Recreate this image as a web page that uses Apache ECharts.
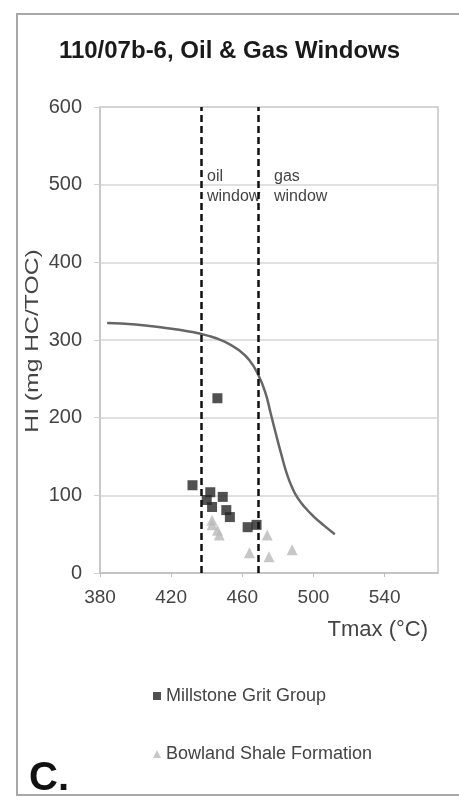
<!DOCTYPE html>
<html>
<head>
<meta charset="utf-8">
<script src="https://cdn.jsdelivr.net/npm/echarts@6/dist/echarts.min.js"></script>
<style>
  html, body { margin: 0; padding: 0; background: #fff; }
  #eChart { width: 459px; height: 801px; }
</style>
</head>
<body>
<div id="eChart"></div>
<script>
// maturity curve (Tmax, HI)
var curveTmax = [384, 400, 415, 430, 440, 450, 458, 464, 469, 473, 476, 479, 482, 485, 488, 491, 495, 500, 506, 512];
var curveHI   = [322, 320, 316, 311, 306, 298, 287, 274, 255, 232, 205, 178, 152, 128, 110, 97, 85, 73, 61, 50];

// Millstone Grit Group
var gritTmax = [446, 432, 442, 449, 440, 443, 453, 451, 463, 468];
var gritHI   = [225, 113, 104, 98, 94, 85, 72, 81, 59, 62];

// Bowland Shale Formation
var bowlandTmax = [443, 446, 447, 443, 474, 464, 475, 488];
var bowlandHI   = [68, 55, 49, 62, 49, 26, 21, 30];

// oil / gas window boundaries
var windowTmax = [437, 469];

var FONT = '"Liberation Sans", Arial, sans-serif';

function pairs(xs, ys){
    var out = [];
    for (var i = 0; i < xs.length; i++) {
        out.push([xs[i], ys[i]]);
    }
    return out;
}

var myChart = echarts.init(document.getElementById('eChart'));

var option = {
    backgroundColor: '#fff',
    textStyle: { fontFamily: FONT },
    title: {
        text: '110/07b-6, Oil & Gas Windows',
        left: 'center',
        top: 34,
        textStyle: { fontSize: 24, fontWeight: 'bold', color: '#1a1a1a', fontFamily: FONT }
    },
    legend: {
        data: ['Millstone Grit Group', 'Bowland Shale Formation'],
        orient: 'vertical',
        left: 148,
        top: 682,
        itemGap: 40,
        itemWidth: 8,
        itemHeight: 8,
        textStyle: { fontSize: 18, color: '#444', fontFamily: FONT }
    },
    grid: {
        left: 100,
        right: 21,
        top: 107,
        bottom: 228,
        show: true,
        borderColor: '#c4c4c4',
        borderWidth: 1.5
    },
    xAxis: {
        type: 'value',
        min: 380,
        max: 570,
        interval: 40,
        axisLine: { lineStyle: { color: '#bdbdbd', width: 1.5 } },
        axisTick: { show: true, length: 4, lineStyle: { color: '#bdbdbd' } },
        axisLabel: { showMaxLabel: false, fontSize: 19, margin: 15, color: '#444', fontFamily: FONT },
        splitLine: { show: false }
    },
    yAxis: {
        type: 'value',
        min: 0,
        max: 600,
        interval: 100,
        axisLine: { show: true, lineStyle: { color: '#c4c4c4', width: 1.5 } },
        axisTick: { show: true, length: 6, lineStyle: { color: '#d0d0d0' } },
        axisLabel: { fontSize: 20, margin: 18, color: '#444', fontFamily: FONT },
        splitLine: { lineStyle: { color: '#d6d6d6', width: 1.5 } }
    },
    graphic: [
        {
            type: 'rect',
            shape: { x: 17, y: 14, width: 470, height: 781 },
            style: { fill: 'none', stroke: '#a8a8a8', lineWidth: 2 },
            z: 0
        },
        {
            // y axis title, stretched along its length like the original
            type: 'text',
            x: 33, y: 341,
            rotation: Math.PI / 2,
            scaleX: 1.3,
            style: { text: 'HI (mg HC/TOC)', fontSize: 19, fill: '#444', fontFamily: FONT, align: 'center', verticalAlign: 'middle' }
        },
        {
            type: 'text', left: 207, top: 167,
            style: { text: 'oil\nwindow', fontSize: 16, lineHeight: 20, fill: '#444', fontFamily: FONT }
        },
        {
            type: 'text', left: 274, top: 167,
            style: { text: 'gas\nwindow', fontSize: 16, lineHeight: 20, fill: '#444', fontFamily: FONT }
        },
        {
            type: 'text', right: 31, top: 619,
            style: { text: 'Tmax (°C)', fontSize: 22, fill: '#444', fontFamily: FONT }
        },
        {
            type: 'text', left: 29, top: 759,
            style: { text: 'C.', fontSize: 40, fontWeight: 'bold', fill: '#111', fontFamily: FONT }
        }
    ],
    series: [
        {
            name: 'curve',
            type: 'line',
            smooth: true,
            showSymbol: false,
            data: pairs(curveTmax, curveHI),
            lineStyle: { color: '#666', width: 2.5 },
            itemStyle: { color: '#666' },
            z: 2,
            markLine: {
                silent: true,
                symbol: 'none',
                label: { show: false },
                lineStyle: { color: '#111', width: 2.5, type: [7, 4] },
                data: windowTmax.map(function(v){ return { xAxis: v }; })
            }
        },
        {
            name: 'Bowland Shale Formation',
            type: 'scatter',
            symbol: 'triangle',
            symbolSize: 11,
            data: pairs(bowlandTmax, bowlandHI),
            itemStyle: { color: '#b9b9b9' },
            z: 3
        },
        {
            name: 'Millstone Grit Group',
            type: 'scatter',
            symbol: 'rect',
            symbolSize: 10,
            data: pairs(gritTmax, gritHI),
            itemStyle: { color: '#262626' },
            z: 4
        }
    ]
};
myChart.setOption(option);
</script>
</body>
</html>
